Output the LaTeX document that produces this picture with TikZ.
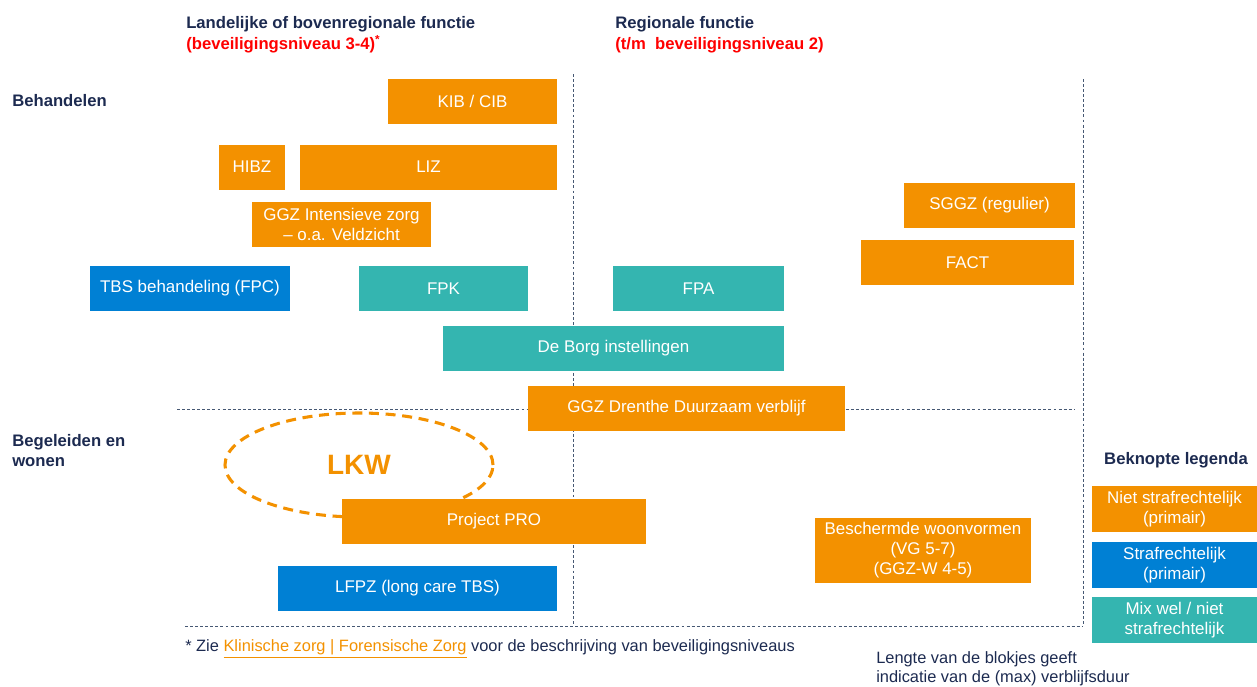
\documentclass[tikz,border=0pt]{standalone}
\usepackage{fontspec}
\setmainfont{Liberation Sans}
\usepackage{tikz}
\usetikzlibrary{shapes.geometric}

\definecolor{oranje}{RGB}{243,145,0}
\definecolor{blauw}{RGB}{0,128,212}
\definecolor{turkoois}{RGB}{52,181,176}
\definecolor{navy}{RGB}{28,42,80}
\definecolor{lijn}{RGB}{70,88,115}

\begin{document}
\begin{tikzpicture}[x=0.75pt,y=-0.75pt,
    blk/.style={text=white,inner sep=0pt,minimum height=33.75pt,align=center,
      font=\fontsize{12.7}{15}\selectfont},
    oblk/.style={blk,fill=oranje},
    bblk/.style={blk,fill=blauw},
    tblk/.style={blk,fill=turkoois},
    kop/.style={anchor=west,align=left,inner sep=0pt,text=navy,font=\fontsize{12.5}{15.75}\selectfont\bfseries},
    grens/.style={draw=lijn,line width=0.6pt,dash pattern=on 2.2pt off 1.6pt}]
  \useasboundingbox (0,0) rectangle (1257,686);

  % dashed frame lines
  \coordinate (v1t) at (573,74);
  \coordinate (v1b) at (573,626);
  \coordinate (v2t) at (1083,79);
  \coordinate (v2b) at (1083,626);
  \coordinate (h1l) at (177,409);
  \coordinate (h1r) at (1075,409);
  \coordinate (h2l) at (185,626);
  \draw[grens] (v1t) -- (v1b);
  \draw[grens] (v2t) -- (v2b);
  \draw[grens] (h1l) -- (h1r);
  \draw[grens] (h2l) -- (v2b);

  % headers
  \node[kop] (landelijk) at (186,35) {Landelijke of bovenregionale functie\\
    \textcolor{red}{(beveiligingsniveau 3-4)\textsuperscript{*}}};
  \node[kop] (regionaal) at (615,35) {Regionale functie\\
    \textcolor{red}{(t/m\ \ beveiligingsniveau 2)}};
  \node[kop] (behandelen) at (12,101) {Behandelen};
  \node[kop,font=\fontsize{12.5}{15}\selectfont\bfseries] (begeleiden) at (12,451) {Begeleiden en\\wonen};

  % LKW
  \node[ellipse,draw=oranje,line width=2.3pt,dash pattern=on 7.5pt off 5pt,
    minimum width=201pt,minimum height=78pt,text=oranje,
    font=\fontsize{21}{24}\selectfont\bfseries] (lkw) at (359,465) {LKW};

  % behandelen
  \node[oblk,minimum width=126.75pt] (kib) at (472.5,101.5) {KIB / CIB};
  \node[oblk,minimum width=49.5pt] (hibz) at (252,167) {HIBZ};
  \node[oblk,minimum width=192.75pt] (liz) at (428.5,167) {LIZ};
  \node[oblk,minimum width=134.25pt] (ggzi) at (341.5,224.5) {GGZ Intensieve zorg\\ -- o.a. Veldzicht};
  \node[bblk,minimum width=150pt] (tbs) at (190,288.5) {TBS behandeling (FPC)};
  \node[tblk,minimum width=126.75pt] (fpk) at (443.5,288.5) {FPK};
  \node[tblk,minimum width=128.25pt] (fpa) at (698.5,288.5) {FPA};
  \node[tblk,minimum width=255.75pt] (borg) at (613.5,348.5) {De Borg instellingen};
  \node[oblk,minimum width=237.75pt] (drenthe) at (686.5,408.5) {GGZ Drenthe Duurzaam verblijf};
  \node[oblk,minimum width=128.25pt] (sggz) at (989.5,205.5) {SGGZ (regulier)};
  \node[oblk,minimum width=159.75pt] (fact) at (967.5,262.5) {FACT};

  % begeleiden en wonen
  \node[oblk,minimum width=228pt] (pro) at (494,521.5) {Project PRO};
  \node[oblk,minimum width=162pt,minimum height=48.75pt] (bwv) at (923,550.5)
    {Beschermde woonvormen\\(VG 5-7)\\(GGZ-W 4-5)};
  \node[bblk,minimum width=209.25pt] (lfpz) at (417.5,588.5) {LFPZ (long care TBS)};

  % legenda
  \node[kop,anchor=center] (legenda) at (1176,460) {Beknopte legenda};
  \node[oblk,minimum width=123.75pt,minimum height=34.5pt] (lg1) at (1174.5,509) {Niet strafrechtelijk\\(primair)};
  \node[bblk,minimum width=123.75pt,minimum height=34.5pt] (lg2) at (1174.5,565) {Strafrechtelijk\\(primair)};
  \node[tblk,minimum width=123.75pt,minimum height=34.5pt] (lg3) at (1174.5,620) {Mix wel / niet\\strafrechtelijk};

  % notes
  \node[anchor=west,inner sep=0pt,text=navy,font=\fontsize{12.3}{14}\selectfont] (noot) at (185,649)
    {* Zie \textcolor{oranje}{\underline{Klinische zorg | Forensische Zorg}} voor de beschrijving van beveiligingsniveaus};
  \node[anchor=west,inner sep=0pt,align=left,text=navy,font=\fontsize{12.3}{14.25}\selectfont] (lengte) at (876,669)
    {Lengte van de blokjes geeft\\indicatie van de (max) verblijfsduur};
\end{tikzpicture}
\end{document}
